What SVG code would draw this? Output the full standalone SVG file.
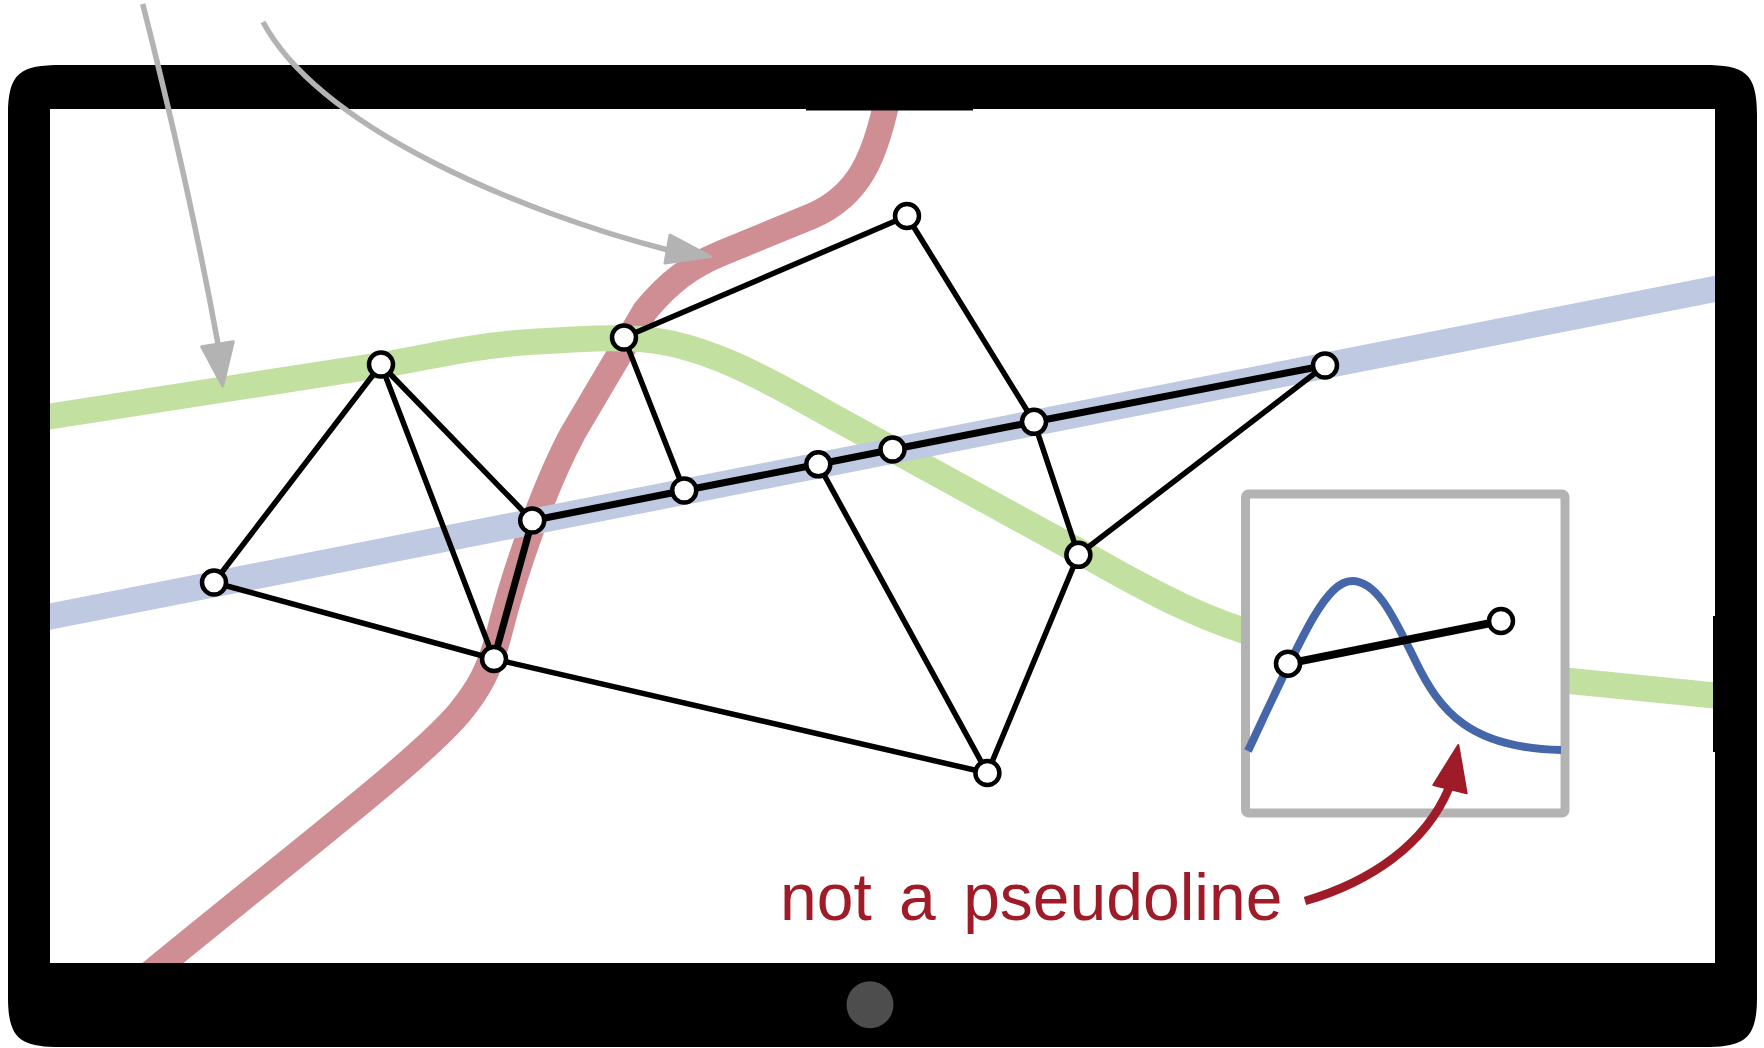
<svg xmlns="http://www.w3.org/2000/svg" width="1764" height="1048" viewBox="0 0 1764 1048">
<style>
.band{fill:none;stroke-width:26;stroke-linejoin:round}
.edge{stroke:#000;stroke-width:5.5;stroke-linecap:round;fill:none}
.thick{stroke:#000;stroke-width:7;stroke-linecap:round;stroke-linejoin:round;fill:none}
.node{fill:#fff;stroke:#000;stroke-width:4.5}
.gray{fill:none;stroke:#b3b3b3;stroke-width:5.5}
.grayhead{fill:#b3b3b3;stroke:#b3b3b3;stroke-width:3;stroke-linejoin:round}
</style>
<rect x="0" y="0" width="1764" height="1048" fill="#fff"/>
<g id="pseudolines">
<path class="band" stroke="#cf8e94" d="M890,86 C876,160 858,196 812,216 L722,253 C690,266 668,283 645,311 L573,433 C545,485 515,570 500,630 C490,670 478,690 460,712 C420,760 300,850 130,990"/>
<path class="band" stroke="#c2e0a0" d="M40,418 L381,365 C430,357 470,346 530,342 C580,339 610,337 640,339 C700,343 760,375 830,415 L1100,563 C1160,597 1210,622 1262,636 L1570,681 L1740,698"/>
<path class="band" stroke="#bfc9e1" d="M40,618.6 L1730,286"/>
</g>
<g id="inset">
<rect x="1245.5" y="494" width="319.5" height="319" rx="3" fill="#fff" stroke="#b3b3b3" stroke-width="9"/>
<path d="M1248,751 C1300,640 1325,581 1352,581 C1378,581 1395,620 1415,660 C1440,712 1470,748 1561,750" fill="none" stroke="#4666aa" stroke-width="8"/>
</g>
<g id="frame">
<path fill="#000" fill-rule="evenodd" d="M61,65 L1704,65 C1744,65 1757,72 1757,115 L1757,997 C1757,1040 1744,1047 1704,1047 L61,1047 C21,1047 8,1040 8,997 L8,115 C8,72 21,65 61,65 Z M50,109 L1715,109 L1715,963 L50,963 Z"/>
<rect x="806" y="108" width="167" height="2.5" fill="#000"/>
<rect x="1713" y="616" width="3" height="136" fill="#000"/>
<circle cx="870" cy="1004.7" r="23.5" fill="#4d4d4d"/>
</g>
<g id="connectors">
<line class="edge" x1="624" y1="337.5" x2="907" y2="216"/>
<line class="edge" x1="907" y1="216" x2="1034" y2="421.8"/>
<line class="edge" x1="624" y1="337.5" x2="684.2" y2="490.5"/>
<line class="edge" x1="381" y1="364.5" x2="214" y2="582.5"/>
<line class="edge" x1="381" y1="364.5" x2="494" y2="659"/>
<line class="edge" x1="381" y1="364.5" x2="532.2" y2="520.5"/>
<line class="edge" x1="214" y1="582.5" x2="494" y2="659"/>
<line class="edge" x1="494" y1="659" x2="987.4" y2="773"/>
<line class="edge" x1="818.3" y1="464.3" x2="987.4" y2="773"/>
<line class="edge" x1="1034" y1="421.8" x2="1078.4" y2="554.8"/>
<line class="edge" x1="1078.4" y1="554.8" x2="1325" y2="365.5"/>
<line class="edge" x1="1078.4" y1="554.8" x2="987.4" y2="773"/>
<line class="thick" x1="532.2" y1="520.5" x2="494" y2="659"/>
<polyline class="thick" points="532.2,520.5 684.2,490.5 818.3,464.3 892.5,449.5 1034,421.8 1325,365.5"/>
<line stroke="#000" stroke-width="8" x1="1288" y1="663.7" x2="1501" y2="621"/>
</g>
<g id="nodes">
<circle id="n1" class="node" cx="907" cy="216" r="12"/>
<circle id="n2" class="node" cx="624" cy="337.5" r="12"/>
<circle id="n3" class="node" cx="381" cy="364.5" r="12"/>
<circle id="n4" class="node" cx="1325" cy="365.5" r="12"/>
<circle id="n5" class="node" cx="1034" cy="421.8" r="12"/>
<circle id="n6" class="node" cx="892.5" cy="449.5" r="12"/>
<circle id="n7" class="node" cx="818.3" cy="464.3" r="12"/>
<circle id="n8" class="node" cx="684.2" cy="490.5" r="12"/>
<circle id="n9" class="node" cx="532.2" cy="520.5" r="12"/>
<circle id="n10" class="node" cx="1078.4" cy="554.8" r="12"/>
<circle id="n11" class="node" cx="214" cy="582.5" r="12"/>
<circle id="n12" class="node" cx="494" cy="659" r="12"/>
<circle id="n13" class="node" cx="987.4" cy="773" r="12"/>
<circle id="n14" class="node" cx="1288" cy="663.7" r="12"/>
<circle id="n15" class="node" cx="1501" cy="621" r="12"/>
</g>
<g id="gray-arrows">
<path class="gray" d="M142.7,4 Q190,190 218,344"/>
<polygon class="grayhead" points="201.7,346.7 233.3,341.7 222.7,386"/>
<path class="gray" d="M263,22 C320,128 520,212 668,250"/>
<polygon class="grayhead" points="670,235 665,263 710.5,256.5"/>
</g>
<g id="annotation">
<path d="M1305,901 C1370,882 1425,845 1449,788" fill="none" stroke="#9e1b27" stroke-width="8.5"/>
<polygon points="1433.3,785 1466.7,793.3 1458.3,745" fill="#9e1b27" stroke="#9e1b27" stroke-width="2" stroke-linejoin="round"/>
<text x="780" y="920" font-family="'Liberation Sans', Arial, sans-serif" font-size="66" fill="#9e1b27" word-spacing="9">not a pseudoline</text>
</g>
</svg>
